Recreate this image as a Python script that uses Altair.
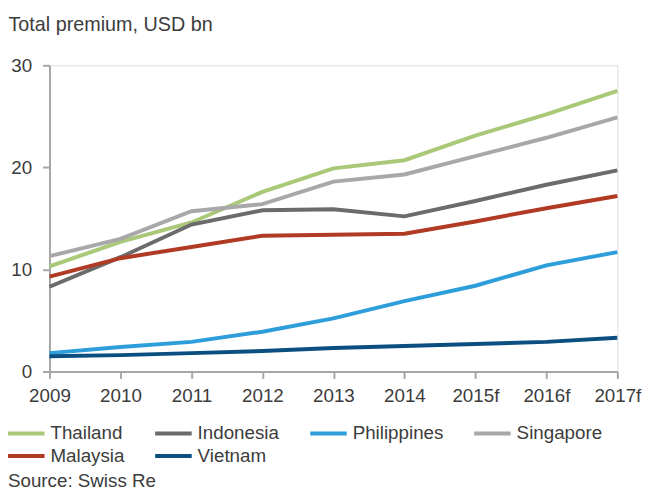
import altair as alt
import pandas as pd

years = ["2009", "2010", "2011", "2012", "2013", "2014", "2015f", "2016f", "2017f"]
countries = ["Thailand", "Indonesia", "Philippines", "Singapore", "Malaysia", "Vietnam"]
thailand = [10.3, 12.7, 14.6, 17.6, 19.9, 20.7, 23.1, 25.2, 27.5]
indonesia = [8.3, 11.2, 14.4, 15.8, 15.9, 15.2, 16.7, 18.3, 19.7]
philippines = [1.8, 2.4, 2.9, 3.9, 5.2, 6.9, 8.4, 10.4, 11.7]
singapore = [11.3, 13.0, 15.7, 16.4, 18.6, 19.3, 21.1, 22.9, 24.9]
malaysia = [9.3, 11.1, 12.2, 13.3, 13.4, 13.5, 14.7, 16.0, 17.2]
vietnam = [1.5, 1.6, 1.8, 2.0, 2.3, 2.5, 2.7, 2.9, 3.3]
colors = ["#a9c878", "#6b6b6b", "#2e9edb", "#a8a8ab", "#b13a24", "#0b4f80"]
y_ticks = [0, 10, 20, 30]

series = [thailand, indonesia, philippines, singapore, malaysia, vietnam]
rows = []
for name, vals in zip(countries, series):
    for yr, v in zip(years, vals):
        rows.append({"year": yr, "country": name, "value": v})
df = pd.DataFrame(rows)

FONT = "Liberation Sans"
TXT = "#3c3c3c"

lines = alt.Chart(df).mark_line(strokeWidth=4).encode(
    x=alt.X("year:O", sort=years,
            scale=alt.Scale(type="point", padding=0),
            axis=alt.Axis(title=None, labelAngle=0, labelFontSize=19, labelColor=TXT,
                          labelFont=FONT, labelPadding=8, tickSize=7, tickColor="#a6a6a6",
                          tickWidth=2, domainColor="#a6a6a6", domainWidth=2, grid=False)),
    y=alt.Y("value:Q", scale=alt.Scale(domain=[0, 30], nice=False),
            axis=alt.Axis(values=y_ticks, title="Total premium, USD bn", titleAngle=0,
                          titleX=-42, titleY=-41, titleAlign="left", titleBaseline="middle",
                          titleFontSize=20, titleFontWeight="normal", titleColor=TXT,
                          titleFont=FONT,
                          labelFontSize=19, labelColor=TXT, labelFont=FONT, labelPadding=11,
                          tickSize=7, tickColor="#a6a6a6", tickWidth=2,
                          domainColor="#a6a6a6", domainWidth=2, grid=False)),
    color=alt.Color("country:N", sort=countries,
                    scale=alt.Scale(domain=countries, range=colors),
                    legend=alt.Legend(title=None, orient="none", legendX=-35, legendY=361,
                                      direction="horizontal",
                                      columns=4, columnPadding=23, rowPadding=1,
                                      symbolType="M-2,0H2", symbolSize=342,
                                      symbolStrokeWidth=4, labelFontSize=19,
                                      labelColor=TXT, labelFont=FONT, labelOffset=13)),
)

source = alt.Chart(pd.DataFrame({"t": ["Source: Swiss Re"]})).mark_text(
    align="left", baseline="middle", fontSize=19, color=TXT, font=FONT
).encode(x=alt.value(-42), y=alt.value(421), text="t:N")

chart = alt.layer(lines, source).properties(
    width=575, height=310,
    autosize=alt.AutoSizeParams(type="none"),
    padding={"left": 42, "top": 55, "right": 29, "bottom": 119},
).configure_view(stroke=None).configure(background="white")

chart.save("out.html", embed_options={"renderer": "svg", "actions": False})
